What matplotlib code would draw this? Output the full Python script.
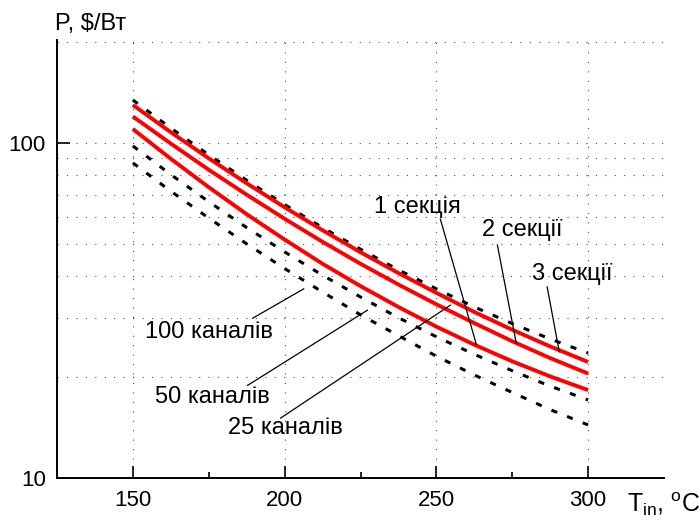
import matplotlib
matplotlib.use("Agg")
import matplotlib.pyplot as plt
from matplotlib.ticker import FixedLocator, NullFormatter, FixedFormatter

plt.rcParams['font.family'] = ['Liberation Sans', 'DejaVu Sans']
plt.rcParams['mathtext.fontset'] = 'custom'
plt.rcParams['mathtext.rm'] = 'Liberation Sans'

# ---- data ----
T = [150, 162.5, 175, 187.5, 200, 212.5, 225, 237.5, 250, 262.5, 275, 287.5, 300]
ch25 = [134.4, 110.8, 92.2, 77.4, 65.5, 55.9, 48.2, 41.8, 36.7, 32.4, 28.9, 26.0, 23.6]
sec3 = [129.9, 107.7, 90.0, 75.8, 64.3, 54.9, 47.2, 40.9, 35.7, 31.3, 27.7, 24.7, 22.2]
sec2 = [120.0, 99.6, 83.2, 70.1, 59.4, 50.7, 43.6, 37.8, 33.0, 29.0, 25.6, 22.8, 20.5]
sec1 = [110.1, 89.7, 73.8, 61.3, 51.5, 43.6, 37.4, 32.4, 28.3, 25.0, 22.3, 20.1, 18.3]
ch50 = [98.0, 80.5, 66.8, 55.9, 47.3, 40.3, 34.7, 30.1, 26.4, 23.4, 20.9, 18.8, 17.1]
ch100 = [87.2, 71.8, 59.7, 50.0, 42.2, 35.9, 30.7, 26.6, 23.1, 20.3, 18.0, 16.0, 14.4]

x_ticks = [150, 200, 250, 300]
x_minor = [175, 225, 275]
y_ticks = [10, 100]
y_tick_labels = ['10', '100']
y_grid = [20, 30, 40, 50, 60, 70, 80, 90, 200]

fs_tick = 16
fs_note = 17

fig = plt.figure(figsize=(7, 5.2), dpi=100)
ax = fig.add_axes([57/700, 1-478/520, (664-57)/700, (478-40)/520])
ax.set_yscale('log')
ax.set_xlim(125, 325)
ax.set_ylim(10, 203)

dot = dict(color='black', lw=2.2, linestyle=(0, (2, 3.5)))
red = dict(color='#ff0000', lw=2.8, solid_capstyle='butt')
for s in (ch25, ch50, ch100):
    ax.plot(T, s, **dot, zorder=3)
for s in (sec3, sec2, sec1):
    ax.plot(T, s, **red, zorder=4)

# ticks / grid
ax.xaxis.set_major_locator(FixedLocator(x_ticks))
ax.xaxis.set_minor_locator(FixedLocator(x_minor))
ax.xaxis.set_minor_formatter(NullFormatter())
ax.yaxis.set_major_locator(FixedLocator(y_ticks))
ax.yaxis.set_major_formatter(FixedFormatter(y_tick_labels))
ax.yaxis.set_minor_locator(FixedLocator(y_grid))
ax.yaxis.set_minor_formatter(NullFormatter())
ax.tick_params(axis='both', which='major', direction='in', length=9, width=1.2,
               labelsize=fs_tick, color='black')
ax.tick_params(axis='x', which='major', pad=8.5)
ax.tick_params(axis='y', which='major', pad=8)
ax.tick_params(axis='x', which='minor', direction='in', length=4, width=1.2)
ax.tick_params(axis='y', which='minor', length=0)

gstyle = dict(color='0.3', lw=0.8, linestyle=(0, (1, 7.5)))
ax.grid(True, axis='x', which='major', **gstyle)
ax.grid(True, axis='y', which='both', **gstyle)
ax.set_axisbelow(True)

for sp in ('top', 'right'):
    ax.spines[sp].set_visible(False)
for sp in ('left', 'bottom'):
    ax.spines[sp].set_linewidth(1.4)

# axis labels
fig.text(55/700, 1-30/520, 'P, $/Вт', fontsize=17, ha='left', va='baseline')
fig.text(627/700, 1-512/520, r'$\mathregular{T_{in}}$, $\mathregular{^{o}}$C',
         fontsize=18, ha='left', va='baseline')

# annotations
notes = [
    ('1 секція', (243.8, 64.4), (251.3, 59.3), (263.2, 25.0)),
    ('2 секції', (278.3, 55.0), (270.1, 49.6), (276.3, 25.3)),
    ('3 секції', (294.7, 40.6), (286.5, 37.2), (290.5, 23.8)),
    ('100 каналів', (175.0, 27.3), (189.5, 30.0), (206.3, 36.7)),
    ('50 каналів', (176.3, 17.5), (187.8, 18.9), (227.3, 31.7)),
    ('25 каналів', (200.3, 14.1), (198.7, 15.1), (254.6, 32.8)),
]
for txt, tpos, p0, p1 in notes:
    ax.text(tpos[0], tpos[1], txt, fontsize=fs_note, ha='center', va='center', zorder=6)
    ax.plot([p0[0], p1[0]], [p0[1], p1[1]], color='black', lw=0.9, zorder=5)

fig.savefig('out.png', dpi=100)
